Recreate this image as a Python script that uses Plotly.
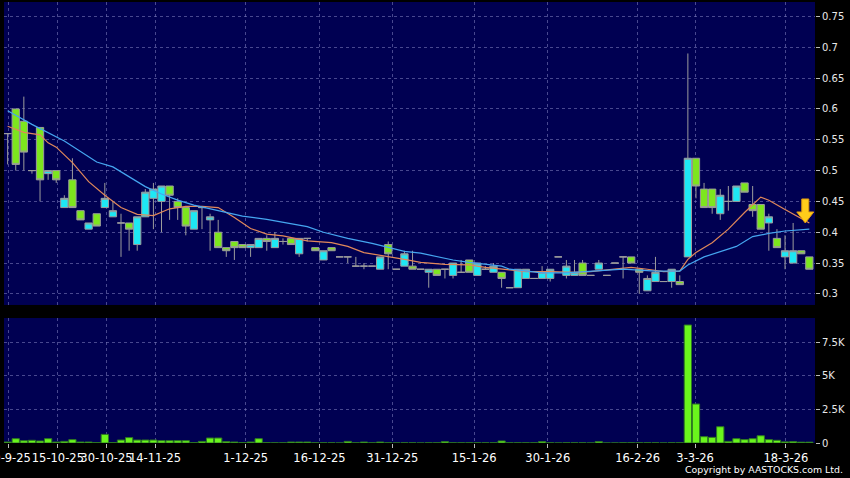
import plotly.graph_objects as go

# daily bars, index 0 = 30-9-25 ... 99 = last session (mid/late March 2026)
opens = [0.56, 0.60, 0.58, 0.50, 0.57, 0.495, 0.50, 0.44, 0.485, 0.435,
         0.405, 0.43, 0.44, 0.425, 0.415, 0.415, 0.38, 0.425, 0.455, 0.45,
         0.475, 0.45, 0.44, 0.405, 0.44, 0.42, 0.40, 0.375, 0.385, 0.38,
         0.375, 0.375, 0.39, 0.375, 0.385, 0.39, 0.365, 0.39, 0.375, 0.355,
         0.375, 0.36, 0.36, 0.345, 0.345, 0.345, 0.34, 0.38, 0.34, 0.345,
         0.345, 0.34, 0.335, 0.34, 0.34, 0.33, 0.335, 0.355, 0.33, 0.34,
         0.335, 0.335, 0.31, 0.31, 0.325, 0.325, 0.325, 0.325, 0.36, 0.33,
         0.33, 0.35, 0.33, 0.34, 0.33, 0.35, 0.36, 0.36, 0.34, 0.305,
         0.32, 0.32, 0.32, 0.32, 0.36, 0.52, 0.47, 0.47, 0.43, 0.45,
         0.45, 0.48, 0.445, 0.445, 0.415, 0.39, 0.36, 0.35, 0.37, 0.36]
highs = [0.56, 0.60, 0.62, 0.50, 0.57, 0.50, 0.50, 0.46, 0.52, 0.435,
         0.415, 0.43, 0.48, 0.45, 0.43, 0.415, 0.425, 0.47, 0.48, 0.475,
         0.475, 0.455, 0.44, 0.435, 0.44, 0.43, 0.42, 0.375, 0.385, 0.38,
         0.38, 0.39, 0.395, 0.40, 0.39, 0.39, 0.39, 0.39, 0.375, 0.37,
         0.375, 0.36, 0.36, 0.36, 0.35, 0.345, 0.36, 0.385, 0.34, 0.37,
         0.37, 0.34, 0.34, 0.34, 0.34, 0.35, 0.355, 0.355, 0.35, 0.345,
         0.35, 0.335, 0.31, 0.34, 0.34, 0.325, 0.345, 0.34, 0.36, 0.355,
         0.355, 0.355, 0.33, 0.355, 0.33, 0.35, 0.36, 0.36, 0.34, 0.33,
         0.36, 0.32, 0.34, 0.33, 0.69, 0.52, 0.48, 0.47, 0.47, 0.475,
         0.475, 0.48, 0.475, 0.445, 0.43, 0.405, 0.395, 0.415, 0.37, 0.36]
lows = [0.51, 0.50, 0.50, 0.495, 0.45, 0.485, 0.48, 0.44, 0.44, 0.42,
        0.405, 0.41, 0.44, 0.425, 0.36, 0.37, 0.37, 0.425, 0.405, 0.40,
        0.42, 0.42, 0.395, 0.405, 0.405, 0.37, 0.375, 0.36, 0.355, 0.375,
        0.36, 0.375, 0.37, 0.375, 0.38, 0.38, 0.36, 0.385, 0.37, 0.355,
        0.37, 0.36, 0.35, 0.345, 0.34, 0.345, 0.34, 0.34, 0.34, 0.345,
        0.34, 0.34, 0.31, 0.33, 0.325, 0.325, 0.335, 0.335, 0.33, 0.34,
        0.335, 0.31, 0.31, 0.31, 0.325, 0.325, 0.325, 0.32, 0.36, 0.325,
        0.33, 0.33, 0.33, 0.34, 0.33, 0.35, 0.325, 0.35, 0.30, 0.305,
        0.32, 0.32, 0.31, 0.315, 0.36, 0.455, 0.44, 0.43, 0.42, 0.435,
        0.45, 0.465, 0.425, 0.405, 0.37, 0.375, 0.34, 0.35, 0.365, 0.34]
closes = [0.56, 0.51, 0.53, 0.50, 0.485, 0.50, 0.485, 0.455, 0.44, 0.42,
          0.415, 0.41, 0.455, 0.435, 0.415, 0.405, 0.425, 0.465, 0.47, 0.475,
          0.46, 0.44, 0.41, 0.435, 0.44, 0.425, 0.375, 0.37, 0.375, 0.375,
          0.38, 0.39, 0.385, 0.39, 0.385, 0.38, 0.39, 0.39, 0.37, 0.37,
          0.37, 0.36, 0.36, 0.345, 0.345, 0.345, 0.36, 0.365, 0.34, 0.365,
          0.34, 0.34, 0.34, 0.33, 0.34, 0.35, 0.335, 0.335, 0.35, 0.34,
          0.345, 0.325, 0.31, 0.34, 0.34, 0.325, 0.335, 0.34, 0.36, 0.345,
          0.335, 0.33, 0.33, 0.35, 0.33, 0.35, 0.36, 0.35, 0.335, 0.325,
          0.335, 0.32, 0.34, 0.315, 0.52, 0.475, 0.44, 0.44, 0.46, 0.45,
          0.475, 0.465, 0.435, 0.405, 0.425, 0.375, 0.37, 0.37, 0.365, 0.34]
volumes = [70, 320, 170, 200, 150, 320, 70, 120, 250, 70,
           70, 20, 640, 20, 220, 400, 220, 220, 220, 170,
           170, 170, 170, 20, 120, 370, 370, 100, 70, 20,
           70, 320, 20, 10, 10, 70, 70, 70, 10, 10,
           10, 0, 120, 10, 70, 10, 70, 10, 0, 10,
           10, 0, 10, 10, 100, 10, 10, 10, 10, 10,
           10, 150, 10, 10, 10, 10, 100, 10, 0, 10,
           10, 10, 0, 100, 0, 0, 10, 10, 10, 10,
           10, 0, 10, 10, 8780, 2900, 470, 420, 1210, 120,
           320, 250, 320, 540, 250, 200, 80, 100, 60, 60]

# moving averages (bar index, value)
ma_fast_idx = [0, 2, 4, 5, 6, 8, 10, 12, 14, 16, 18, 20, 22, 24, 26, 28, 30, 32, 34, 37,
               40, 42, 44, 47, 49, 51, 54, 57, 59, 62, 64, 67, 70, 72, 75, 77, 79, 81, 83,
               84, 85, 87, 89, 91, 93, 94, 96, 97, 99]
ma_fast = [0.572, 0.562, 0.558, 0.545, 0.538, 0.513, 0.482, 0.46, 0.44, 0.429, 0.427, 0.438,
           0.442, 0.442, 0.44, 0.424, 0.406, 0.397, 0.394, 0.386, 0.383, 0.377, 0.367, 0.361,
           0.356, 0.351, 0.348, 0.347, 0.343, 0.339, 0.336, 0.336, 0.335, 0.336, 0.34, 0.343,
           0.34, 0.336, 0.337, 0.356, 0.367, 0.383, 0.405, 0.432, 0.457, 0.452, 0.437, 0.43, 0.415]
ma_slow_idx = [0, 3, 7, 11, 13, 15, 17, 19, 21, 23, 26, 29, 32, 35, 37, 39, 42, 45, 47, 49,
               51, 52, 55, 57, 61, 62, 66, 69, 73, 76, 80, 83, 84, 86, 90, 92, 94, 96, 99]
ma_slow = [0.597, 0.575, 0.548, 0.514, 0.506, 0.49, 0.474, 0.462, 0.452, 0.444, 0.435, 0.426,
           0.421, 0.414, 0.409, 0.40, 0.39, 0.382, 0.375, 0.369, 0.366, 0.363, 0.355, 0.351,
           0.345, 0.34, 0.334, 0.334, 0.337, 0.34, 0.337, 0.337, 0.347, 0.36, 0.377, 0.393,
           0.398, 0.402, 0.405]

date_labels = ['30-9-25', '15-10-25', '30-10-25', '14-11-25', '1-12-25', '16-12-25',
               '31-12-25', '15-1-26', '30-1-26', '16-2-26', '3-3-26', '18-3-26']
date_pos = [0.1, 6.2, 12.2, 18.2, 29.4, 38.5, 47.5, 57.6, 66.7, 77.8, 84.9, 96.1]
price_ticks = [0.3, 0.35, 0.4, 0.45, 0.5, 0.55, 0.6, 0.65, 0.7, 0.75]
vol_ticks = [0, 2500, 5000, 7500]
vol_labels = ['0', '2.5K', '5K', '7.5K']

assert len(opens) == len(highs) == len(lows) == len(closes) == len(volumes) == 100

bars = list(range(len(closes)))

CYAN = '#1ee8f4'
GREEN = '#7de61e'
WICK = '#9c9c9c'
GRID = 'rgba(120,120,185,0.6)'
FONT = 'DejaVu Sans'

fig = go.Figure()
fig.add_trace(go.Candlestick(
    x=bars, open=opens, high=highs, low=lows, close=closes,
    increasing=dict(fillcolor=CYAN, line=dict(color=WICK, width=1)),
    decreasing=dict(fillcolor=GREEN, line=dict(color=WICK, width=1)),
    whiskerwidth=0, showlegend=False, xaxis='x', yaxis='y'))
fig.add_trace(go.Scatter(x=ma_fast_idx, y=ma_fast, mode='lines',
                         line=dict(color='#e0885a', width=1.2), showlegend=False,
                         xaxis='x', yaxis='y'))
fig.add_trace(go.Scatter(x=ma_slow_idx, y=ma_slow, mode='lines',
                         line=dict(color='#45a6f0', width=1.2), showlegend=False,
                         xaxis='x', yaxis='y'))
fig.add_trace(go.Bar(x=bars, y=volumes,
                     marker=dict(color='#6af51c', line=dict(color='#2e7a22', width=1)),
                     showlegend=False, xaxis='x2', yaxis='y2'))

# yellow marker arrow pointing at the end of the short average
fig.add_shape(type='path', xref='x', yref='y', xsizemode='pixel', ysizemode='pixel',
              xanchor=ma_fast_idx[-1] - 0.5, yanchor=ma_fast[-1],
              path='M -3.5,24 L 3.5,24 L 3.5,11 L 8.5,11 L 0,0 L -8.5,11 L -3.5,11 Z',
              fillcolor='#ffcc1a', line=dict(color='#e09a10', width=1))

xcommon = dict(range=[-0.45, 99.7], tickmode='array', tickvals=date_pos,
               showgrid=True, gridcolor=GRID, griddash='3px,3px', gridwidth=1,
               zeroline=False, showline=False, automargin=False)
ycommon = dict(side='right', ticks='outside', ticklen=4, tickcolor='#bbbbbb',
               showgrid=True, gridcolor=GRID, griddash='3px,3px', gridwidth=1,
               zeroline=False, showline=False, automargin=False,
               tickfont=dict(family=FONT, size=10, color='#e8e8e8'))

fig.update_layout(
    width=850, height=478,
    margin=dict(l=4, r=35, t=2, b=35, autoexpand=False),
    paper_bgcolor='black', plot_bgcolor='#000052',
    boxgap=0.1, boxgroupgap=0, bargap=0.1,
    hovermode=False, dragmode=False,
    xaxis=dict(xcommon, domain=[0, 1], anchor='y', showticklabels=False, ticks='',
               rangeslider=dict(visible=False)),
    xaxis2=dict(xcommon, domain=[0, 1], anchor='y2', matches='x', ticktext=date_labels,
                ticks='outside', ticklen=4, tickcolor='#bbbbbb', tickangle=0,
                ticklabeloverflow='allow',
                tickfont=dict(family=FONT, size=11.5, color='white')),
    yaxis=dict(ycommon, domain=[0.313, 1], anchor='x', range=[0.282, 0.7735],
               tickmode='array', tickvals=price_ticks,
               ticktext=[f'{v:g}' for v in price_ticks]),
    yaxis2=dict(ycommon, domain=[0, 0.2834], anchor='x2', range=[0, 9300],
                tickmode='array', tickvals=vol_ticks, ticktext=vol_labels),
    annotations=[dict(text='Copyright by AASTOCKS.com Ltd.', xref='paper', yref='paper',
                      x=1.037, y=-0.061, xanchor='right', yanchor='middle',
                      showarrow=False, font=dict(family=FONT, size=9.4, color='white'))],
)

# the page body has a default 8px margin; drop it so the chart sits at the window corner
fig.write_html("out.html", config={'displayModeBar': False},
               post_script="document.body.style.margin='0';document.body.style.background='black';")
